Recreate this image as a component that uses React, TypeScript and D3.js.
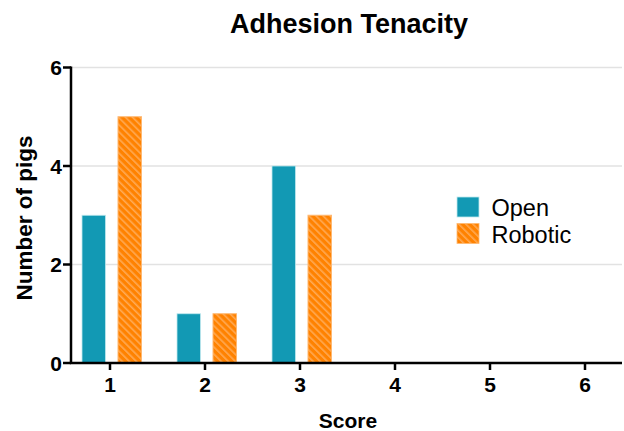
import React from "react";
import * as d3 from "d3";

const scores = [1, 2, 3, 4, 5, 6];
const openValues = [3, 1, 4, 0, 0, 0];
const roboticValues = [5, 1, 3, 0, 0, 0];
const yTicks = [0, 2, 4, 6];
const seriesNames = ["Open", "Robotic"];

const W = 624, H = 431;
const FONT = "'Liberation Sans', Arial, sans-serif";

export default function App() {
  const x = d3.scaleLinear().domain([1, 6]).range([110, 585]);
  const y = d3.scaleLinear().domain([0, 6]).range([363, 67.5]);
  const bw = 23.5;
  const openC = "#1299b4";
  const orange = "#ff8200";
  return (
    <svg width={W} height={H} style={{ position: "absolute", left: 0, top: 0 }} fontFamily={FONT}>
      <defs>
        <pattern id="hatch" patternUnits="userSpaceOnUse" width="5" height="5" patternTransform="rotate(-45)">
          <rect width="5" height="5" fill={orange} />
          <rect x="0" y="0" width="1.6" height="5" fill="#ffaa55" />
        </pattern>
      </defs>
      <rect width={W} height={H} fill="#fff" />
      <text x={349} y={33} textAnchor="middle" fontSize={27} fontWeight="bold">Adhesion Tenacity</text>
      {yTicks.filter(t => t > 0).map(t => (
        <line key={"g" + t} x1={71} x2={622} y1={y(t)} y2={y(t)} stroke="#e2e2e2" strokeWidth={1.3} />
      ))}
      {scores.map((s, i) => (
        <g key={"b" + s}>
          {openValues[i] > 0 && (
            <rect x={x(s) - 28} y={y(openValues[i])} width={bw} height={y(0) - y(openValues[i])} fill={openC} stroke="#bfe8ee" strokeWidth={0.8} />
          )}
          {roboticValues[i] > 0 && (
            <rect x={x(s) + 8} y={y(roboticValues[i])} width={bw} height={y(0) - y(roboticValues[i])} fill="url(#hatch)" stroke="#ffb870" strokeWidth={1} />
          )}
        </g>
      ))}
      <line x1={71} x2={71} y1={66.5} y2={364} stroke="#000" strokeWidth={2.5} />
      <line x1={69.8} x2={622} y1={363} y2={363} stroke="#000" strokeWidth={2.5} />
      {yTicks.map(t => (
        <g key={"yt" + t}>
          <line x1={63} x2={71} y1={y(t)} y2={y(t)} stroke="#000" strokeWidth={2.5} />
          <text x={62} y={y(t) + 7.5} textAnchor="end" fontSize={21} fontWeight="bold">{t}</text>
        </g>
      ))}
      {scores.map(s => (
        <g key={"xt" + s}>
          <line x1={x(s)} x2={x(s)} y1={363} y2={370} stroke="#000" strokeWidth={2.5} />
          <text x={x(s)} y={392} textAnchor="middle" fontSize={21} fontWeight="bold">{s}</text>
        </g>
      ))}
      <text x={348} y={428} textAnchor="middle" fontSize={21} fontWeight="bold">Score</text>
      <text transform={`translate(32,218) rotate(-90)`} textAnchor="middle" fontSize={22.5} fontWeight="bold">Number of pigs</text>
      {seriesNames.map((n, i) => (
        <g key={n} transform={`translate(457,${197 + i * 26.5})`}>
          <rect width={22} height={20} fill={i === 0 ? openC : "url(#hatch)"} stroke={i === 0 ? "#bfe8ee" : "#ffb870"} strokeWidth={0.8} />
          <text x={34.5} y={19} fontSize={23.5}>{n}</text>
        </g>
      ))}
    </svg>
  );
}
